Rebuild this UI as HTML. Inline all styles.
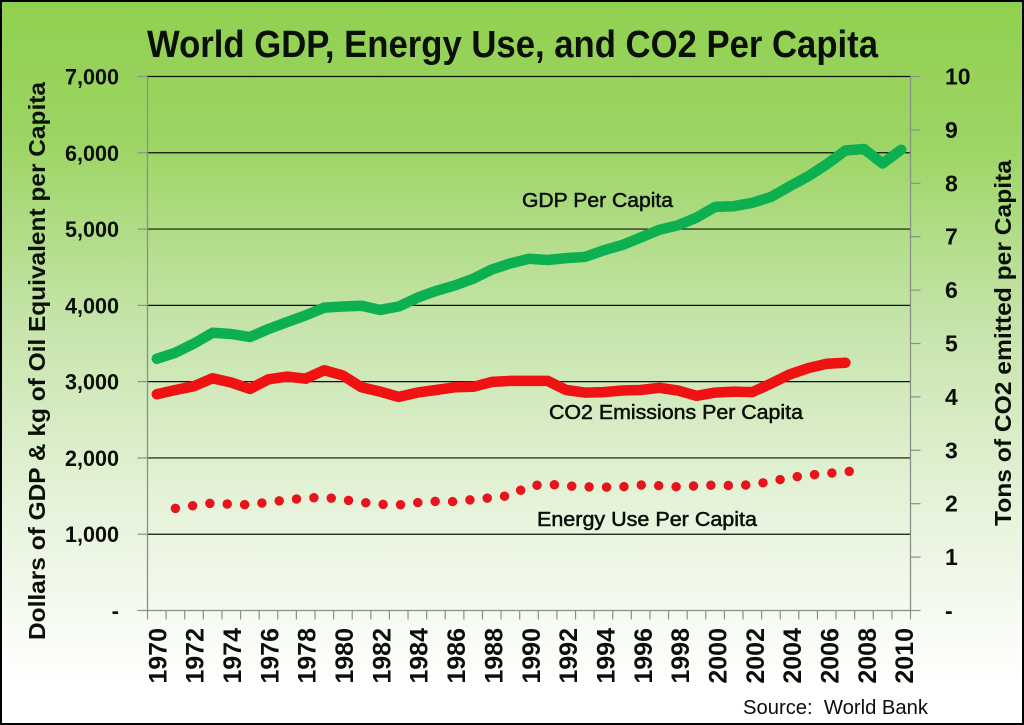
<!DOCTYPE html>
<html lang="en">
<head>
<meta charset="utf-8">
<title>World GDP, Energy Use, and CO2 Per Capita</title>
<style>
html,body{margin:0;padding:0;width:1024px;height:725px;overflow:hidden;background:#fff}
svg{display:block}
text{font-family:"Liberation Sans",sans-serif;fill:#0a0f08}
.b{font-weight:bold}
</style>
</head>
<body>
<svg id="chart" width="1024" height="725" viewBox="0 0 1024 725" xmlns="http://www.w3.org/2000/svg">
  <defs>
    <linearGradient id="bg" x1="0" y1="0" x2="0" y2="1">
      <stop offset="0" stop-color="#90d04f"/>
      <stop offset="0.2" stop-color="#9dd565"/>
      <stop offset="0.45" stop-color="#c6e4ab"/>
      <stop offset="0.7" stop-color="#e6f3da"/>
      <stop offset="0.94" stop-color="#ffffff"/>
      <stop offset="1" stop-color="#ffffff"/>
    </linearGradient>
  </defs>
  <rect x="0" y="0" width="1024" height="725" fill="url(#bg)"/>
  <text class="b" x="147" y="57" font-size="38" textLength="731" lengthAdjust="spacingAndGlyphs">World GDP, Energy Use, and CO2 Per Capita</text>
  <g id="grid"></g>
  <g id="axes"></g>
  <g id="series"></g>
  <text class="b" transform="translate(45,640) rotate(-90)" font-size="23" textLength="558" lengthAdjust="spacingAndGlyphs">Dollars of GDP &amp; kg of Oil Equivalent per Capita</text>
  <text class="b" transform="translate(1011,526) rotate(-90)" font-size="23" textLength="366" lengthAdjust="spacingAndGlyphs">Tons of CO2 emitted per Capita</text>
  <text x="522" y="207" font-size="20" stroke="#0a0f08" stroke-width="0.5" textLength="151" lengthAdjust="spacingAndGlyphs">GDP Per Capita</text>
  <text x="549" y="419" font-size="20" stroke="#0a0f08" stroke-width="0.5" textLength="254" lengthAdjust="spacingAndGlyphs">CO2 Emissions  Per Capita</text>
  <text x="537" y="526" font-size="20" stroke="#0a0f08" stroke-width="0.5" textLength="220" lengthAdjust="spacingAndGlyphs">Energy Use Per Capita</text>
  <text x="743" y="714" font-size="20" style="white-space:pre" fill="#222" textLength="185" lengthAdjust="spacingAndGlyphs">Source:  World Bank</text>
  <rect x="0" y="0" width="2" height="725" fill="#000"/>
  <rect x="0" y="0" width="1024" height="2" fill="#000"/>
  <rect x="1022" y="0" width="2" height="725" fill="#000"/>
  <rect x="0" y="723" width="1024" height="2" fill="#000"/>
</svg>
<script>
const leftTickValues = [0, 1000, 2000, 3000, 4000, 5000, 6000, 7000];
const leftTickLabels = ['-', '1,000', '2,000', '3,000', '4,000', '5,000', '6,000', '7,000'];
const rightTickValues = [0, 1, 2, 3, 4, 5, 6, 7, 8, 9, 10];
const rightTickLabels = ['-', '1', '2', '3', '4', '5', '6', '7', '8', '9', '10'];
const years = [1970,1971,1972,1973,1974,1975,1976,1977,1978,1979,1980,1981,1982,1983,1984,1985,1986,1987,1988,1989,1990,1991,1992,1993,1994,1995,1996,1997,1998,1999,2000,2001,2002,2003,2004,2005,2006,2007,2008,2009,2010];
const gdpPerCapita = [3300,3380,3500,3640,3625,3585,3690,3780,3870,3970,3985,3995,3940,3985,4100,4190,4260,4350,4470,4550,4610,4595,4620,4635,4720,4790,4890,4990,5050,5150,5290,5300,5345,5420,5560,5690,5850,6030,6050,5860,6040];
const co2PerCapita = [4.05,4.13,4.20,4.35,4.27,4.15,4.33,4.38,4.34,4.50,4.40,4.18,4.10,4.00,4.08,4.13,4.18,4.19,4.28,4.30,4.30,4.30,4.13,4.08,4.09,4.12,4.13,4.17,4.12,4.02,4.08,4.10,4.09,4.25,4.42,4.54,4.62,4.64];
const energyYears = [1971,1972,1973,1974,1975,1976,1977,1978,1979,1980,1981,1982,1983,1984,1985,1986,1987,1988,1989,1990,1991,1992,1993,1994,1995,1996,1997,1998,1999,2000,2001,2002,2003,2004,2005,2006,2007,2008];
const energyPerCapita = [1339,1376,1409,1392,1385,1422,1448,1474,1484,1455,1418,1392,1383,1415,1431,1427,1455,1478,1507,1632,1655,1634,1621,1616,1621,1645,1636,1622,1633,1644,1637,1650,1691,1742,1773,1797,1818,1843];

const NS = 'http://www.w3.org/2000/svg';
const plotLeft = 147.5, plotRight = 910.5, plotTop = 76.5, plotBottom = 610.5;
const band = (plotRight - plotLeft) / years.length;
function xEdge(i) { return plotLeft + band * i; }
function xYear(y) { return plotLeft + band * (y - years[0] + 0.5); }
function yLeft(v) { return plotBottom - (v / 7000) * (plotBottom - plotTop); }
function yRight(v) { return plotBottom - (v / 10) * (plotBottom - plotTop); }
function make(tag, attrs, parent, content) {
  const el = document.createElementNS(NS, tag);
  for (const k in attrs) el.setAttribute(k, attrs[k]);
  if (content !== undefined) el.textContent = content;
  parent.appendChild(el);
  return el;
}
const grid = document.getElementById('grid');
const axes = document.getElementById('axes');
const series = document.getElementById('series');

leftTickValues.forEach((v, i) => {
  const y = yLeft(v);
  if (v > 0) {
    const g = make('line', {x1: plotLeft, x2: plotRight, y1: y, y2: y, stroke: '#0c120a', 'stroke-width': 1.2}, grid);
    
    
  }
  const t = make('line', {x1: plotLeft - 10, x2: plotLeft, y1: y, y2: y, stroke: '#8a8f88', 'stroke-width': 1.2}, axes);
  
  
  const isDash = v === 0;
  const l = make('text', {x: 119, y: y + 8, 'font-size': 22, 'text-anchor': 'end', class: 'b'}, axes, leftTickLabels[i]);
  
  
  if (!isDash) {
    l.setAttribute('textLength', 54);
    l.setAttribute('lengthAdjust', 'spacingAndGlyphs');
  }
});

rightTickValues.forEach((v, i) => {
  const y = yRight(v);
  const t = make('line', {x1: plotRight, x2: plotRight + 10, y1: y, y2: y, stroke: '#8a8f88', 'stroke-width': 1.2}, axes);
  
  
  const l = make('text', {x: 945, y: y + 8, 'font-size': 23, class: 'b'}, axes, rightTickLabels[i]);
  
  
});

const leftAxis = make('line', {x1: plotLeft, x2: plotLeft, y1: plotTop, y2: plotBottom, stroke: '#8a8f88', 'stroke-width': 1.3}, axes);


const rightAxis = make('line', {x1: plotRight, x2: plotRight, y1: plotTop, y2: plotBottom, stroke: '#8a8f88', 'stroke-width': 1.3}, axes);


const xAxis = make('line', {x1: plotLeft, x2: plotRight, y1: plotBottom, y2: plotBottom, stroke: '#8a8f88', 'stroke-width': 1.3}, axes);



for (let i = 0; i <= years.length; i++) {
  const x = xEdge(i);
  const t = make('line', {x1: x, x2: x, y1: plotBottom, y2: plotBottom + 9, stroke: '#8a8f88', 'stroke-width': 1.2}, axes);
  
  
}
years.forEach((yr, i) => {
  if (yr % 2 !== 0) return;
  const x = xYear(yr) + 9.5 + (i / (years.length - 1)) * 2.5;
  const l = make('text', {transform: 'translate(' + x + ',628) rotate(-90)', 'text-anchor': 'end', 'font-size': 25, class: 'b'}, axes, String(yr));
  
  
});

function pointsOf(xs, vals, scale) {
  return vals.map((v, i) => xYear(xs[i]).toFixed(1) + ',' + scale(v).toFixed(1)).join(' ');
}
const energyLine = make('polyline', {points: pointsOf(energyYears, energyPerCapita, yLeft), fill: 'none', stroke: '#e8141c', 'stroke-width': 9.5, 'stroke-linecap': 'round', 'stroke-linejoin': 'round', 'stroke-dasharray': '0 17.42'}, series);


const co2Line = make('polyline', {points: pointsOf(years, co2PerCapita, yRight), fill: 'none', stroke: '#ee1212', 'stroke-width': 10.5, 'stroke-linecap': 'round', 'stroke-linejoin': 'round'}, series);


const gdpLine = make('polyline', {points: pointsOf(years, gdpPerCapita, yLeft), fill: 'none', stroke: '#0cb050', 'stroke-width': 10.5, 'stroke-linecap': 'round', 'stroke-linejoin': 'round'}, series);


</script>
</body>
</html>
